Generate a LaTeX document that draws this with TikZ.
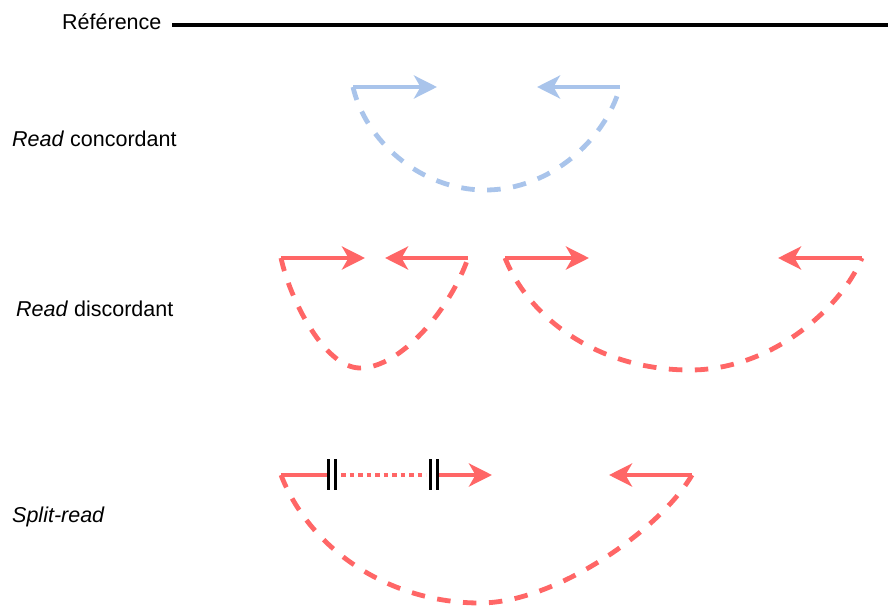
\documentclass[tikz,border=0pt]{standalone}
\usepackage{fontspec}
\setmainfont{Liberation Sans}
\usetikzlibrary{arrows.meta}
\definecolor{readblue}{RGB}{169,196,235}
\definecolor{readred}{RGB}{255,102,102}
\tikzset{
  lbl/.style={anchor=base west, inner sep=0pt, font=\fontsize{21.5}{24}\selectfont},
  readarrow/.style={line width=4.8pt, -{Stealth[length=23pt,width=23pt,inset=6.5pt]}},
  readline/.style={line width=4.8pt},
  insert/.style={line width=4.8pt, dash pattern=on 13.5pt off 12.5pt},
  gapline/.style={line width=4.8pt, dash pattern=on 4.5pt off 4pt},
  bar/.style={line width=2.8pt, black},
  refline/.style={line width=4.5pt, black}
}
\begin{document}
\begin{tikzpicture}[x=1pt,y=-1pt]
\useasboundingbox (0,0) rectangle (888,605);

% labels
\node[lbl] (tref) at (62,29) {Référence};
\node[lbl] (tconc) at (12,146) {\textit{Read} concordant};
\node[lbl] (tdisc) at (16,316) {\textit{Read} discordant};
\node[lbl] (tsplit) at (12,522) {\textit{Split-read}};

% reference line
\coordinate (r1) at (172,25);
\coordinate (r2) at (888,25);
\draw[refline] (r1) -- (r2);

% concordant read pair (blue)
\coordinate (b1) at (353,87);
\coordinate (b1t) at (437,87);
\coordinate (b2) at (620,87);
\coordinate (b2t) at (537,87);
\coordinate (bb) at (485,190);
\draw[readarrow, readblue] (b1) -- (b1t);
\draw[readarrow, readblue] (b2) -- (b2t);
\draw[insert, readblue] (b1) .. controls (365,140) and (420,190) .. (bb)
  .. controls (550,190) and (605,140) .. (b2);

% discordant pair 1
\coordinate (d1) at (281,258);
\coordinate (d1t) at (365,258);
\coordinate (d2) at (468,258);
\coordinate (d2t) at (385,258);
\coordinate (db) at (360,368);
\draw[readarrow, readred] (d1) -- (d1t);
\draw[readarrow, readred] (d2) -- (d2t);
\draw[insert, readred] (d1) .. controls (290,300) and (325,368) .. (db)
  .. controls (400,368) and (450,310) .. (d2);

% discordant pair 2
\coordinate (e1) at (505,258);
\coordinate (e1t) at (589,258);
\coordinate (e2) at (862,258);
\coordinate (e2t) at (778,258);
\coordinate (eb) at (690,370);
\draw[readarrow, readred] (e1) -- (e1t);
\draw[readarrow, readred] (e2) -- (e2t);
\draw[insert, readred] (e1) .. controls (530,320) and (600,370) .. (eb)
  .. controls (770,370) and (840,310) .. (e2);

% split read
\coordinate (s1) at (281,475);
\coordinate (sb1) at (328,475);
\coordinate (sg1) at (341,475);
\coordinate (sg2) at (426,475);
\coordinate (sb2) at (438,475);
\coordinate (s1t) at (492,475);
\coordinate (s2) at (692,475);
\coordinate (s2t) at (609,475);
\coordinate (sb) at (480,603);
\draw[readline, readred] (s1) -- (sb1);
\draw[gapline, readred] (sg1) -- (sg2);
\draw[readarrow, readred] (sb2) -- (s1t);
\draw[readarrow, readred] (s2) -- (s2t);
\draw[insert, readred] (s1) .. controls (310,550) and (390,603) .. (sb)
  .. controls (555,603) and (660,530) .. (s2);

% breakpoint bars
\coordinate (k1a) at (328.3,459); \coordinate (k1b) at (328.3,490);
\coordinate (k2a) at (335.7,459); \coordinate (k2b) at (335.7,490);
\coordinate (k3a) at (430.3,459); \coordinate (k3b) at (430.3,490);
\coordinate (k4a) at (437.7,459); \coordinate (k4b) at (437.7,490);
\draw[bar] (k1a) -- (k1b);
\draw[bar] (k2a) -- (k2b);
\draw[bar] (k3a) -- (k3b);
\draw[bar] (k4a) -- (k4b);
\end{tikzpicture}
\end{document}
